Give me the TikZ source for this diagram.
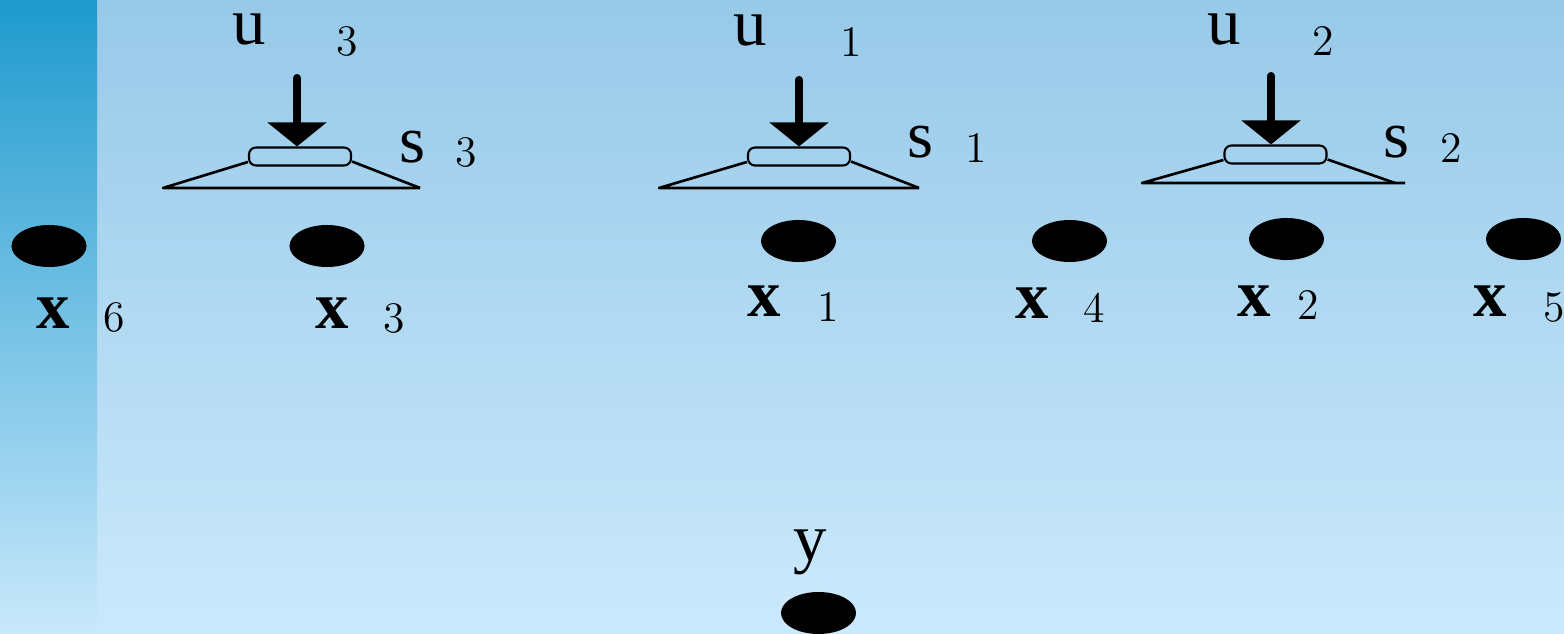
\documentclass[tikz,border=0pt]{standalone}
\usepackage{fontspec}
\usepackage{tikz}
\usetikzlibrary{arrows.meta,positioning,shapes.geometric}
\newfontfamily\timesfont{Liberation Serif}
\definecolor{SkyTop}{HTML}{97C9E8}
\definecolor{SkyLow}{HTML}{CBE9FC}
\definecolor{BarTop}{HTML}{1E9ACD}
\definecolor{BarLow}{HTML}{C9E8FB}
\tikzset{
  dot/.style={ellipse,fill=black,inner sep=0pt,minimum width=0.75cm,minimum height=0.42cm},
  slot/.style={draw=black,rounded corners=2pt,line width=0.6pt,inner sep=0pt,minimum width=1.02cm,minimum height=0.18cm},
  plate/.style={line width=0.75pt,line join=round},
  arr/.style={-{Triangle[width=0.58cm,length=0.24cm]},line width=2.3pt,line cap=round},
  var/.style={inner sep=0pt,anchor=base west,font=\timesfont\fontsize{19}{23}\selectfont},
  bvar/.style={inner sep=0pt,anchor=base west,font=\timesfont\fontsize{19}{23}\selectfont\bfseries},
  idx/.style={inner sep=0pt,anchor=base west,font=\fontsize{12.4}{15}\selectfont}
}
\begin{document}
\begin{tikzpicture}[x=0.01cm,y=-0.01cm]
  \useasboundingbox (0,0) rectangle (1564,634);
  \shade[top color=SkyTop,bottom color=SkyLow] (0,0) rectangle (1564,634);
  \shade[top color=BarTop,bottom color=BarLow] (0,0) rectangle (97,634);
  % stages
  \node[slot] (b3) at (300,156.5) {};
  \node[slot] (b1) at (799,156.5) {};
  \node[slot] (b2) at (1275.5,154.5) {};
  \coordinate (a3) at (297,78);
  \coordinate (a1) at (799,80);
  \coordinate (a2) at (1271,76);
  \draw[arr] (a3) -- (b3.north -| a3);
  \draw[arr] (a1) -- (b1.north -| a1);
  \draw[arr] (a2) -- (b2.north -| a2);
  \coordinate (p3l) at (163,188); \coordinate (p3r) at (420,188);
  \coordinate (p1l) at (659,188); \coordinate (p1r) at (919,188);
  \coordinate (p2l) at (1142,183); \coordinate (p2r) at (1405,183);
  \draw[plate] (p3r) -- (p3l) -- ([yshift=-0.55mm]b3.west);
  \draw[plate] ([yshift=-0.5mm]b3.east) -- (p3r);
  \draw[plate] (p1r) -- (p1l) -- ([yshift=-0.55mm]b1.west);
  \draw[plate] ([yshift=-0.5mm]b1.east) -- (p1r);
  \draw[plate] (p2r) -- (p2l) -- ([yshift=-0.55mm]b2.west);
  \draw[plate] ([yshift=-0.5mm]b2.east) -- ([xshift=-1mm]p2r);
  % labels of the stages
  \node[var] (lu3) at (232,45) {u};  \node[idx] (nu3) at (336,56) {3};
  \node[var] (lu1) at (733,46) {u};  \node[idx] (nu1) at (840,57) {1};
  \node[var] (lu2) at (1207,45) {u}; \node[idx] (nu2) at (1312,56) {2};
  \node[var] (ls3) at (399,163) {s};  \node[idx] (ns3) at (455,167) {3};
  \node[var] (ls1) at (907,158) {s};  \node[idx] (ns1) at (965,163) {1};
  \node[var] (ls2) at (1383,158) {s}; \node[idx] (ns2) at (1440,163) {2};
  % variables
  \node[dot] (x6) at (49,246) {};
  \node[dot] (x3) at (327,246) {};
  \node[dot] (x1) at (798.5,241) {};
  \node[dot] (x4) at (1069.5,241) {};
  \node[dot] (x2) at (1286.5,239) {};
  \node[dot] (x5) at (1523.5,239) {};
  \node[dot] (y) at (818.5,613) {};
  \node[bvar] (lx6) at (36,329) {x};   \node[idx] (nx6) at (103,332) {6};
  \node[bvar] (lx3) at (315,329) {x};  \node[idx] (nx3) at (383,333) {3};
  \node[bvar] (lx1) at (747,317) {x};  \node[idx] (nx1) at (817,322) {1};
  \node[bvar] (lx4) at (1015,319) {x}; \node[idx] (nx4) at (1083,323) {4};
  \node[bvar] (lx2) at (1237,317) {x}; \node[idx] (nx2) at (1297,320) {2};
  \node[bvar] (lx5) at (1473,317) {x}; \node[idx] (nx5) at (1543,322) {5};
  \node[var] (ly) at (793,560) {y};
\end{tikzpicture}
\end{document}
